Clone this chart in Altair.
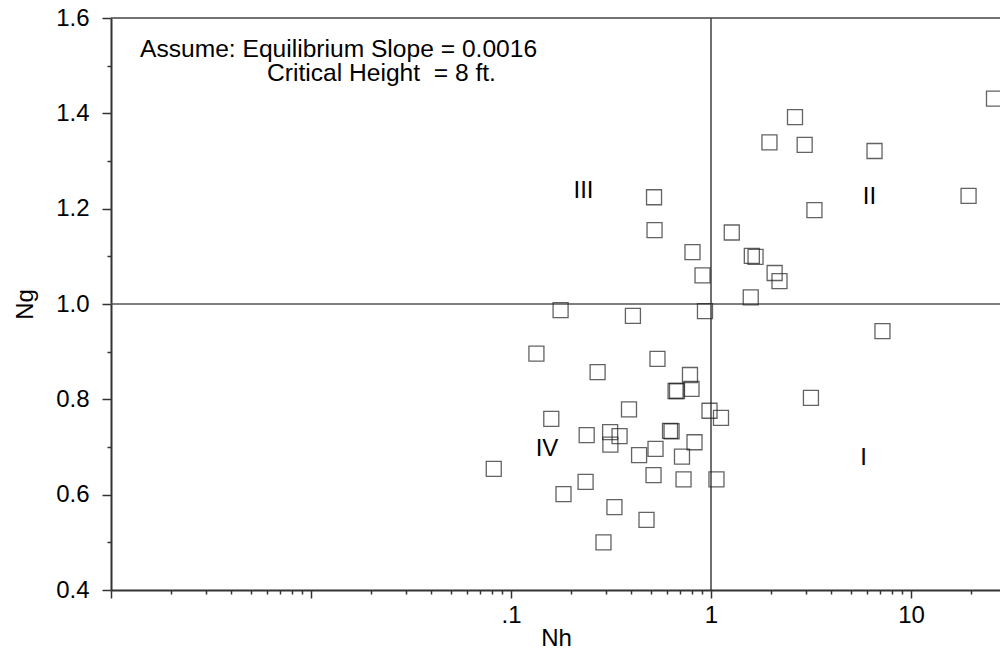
import altair as alt
import pandas as pd

# Data points (Nh, Ng)
nh = [2.63, 1.96, 2.94, 6.57, 26.0, 19.4, 3.29, 1.27, 1.60, 1.67, 2.08, 2.20, 1.58,
      7.20, 3.16,
      0.519, 0.522, 0.808, 0.907,
      0.177, 0.407, 0.933, 0.134, 0.540, 0.271, 0.785, 0.665, 0.676, 0.799,
      0.389, 0.983, 1.122, 0.159, 0.239, 0.313, 0.349, 0.314, 0.624, 0.635,
      0.827, 0.528, 0.437, 0.716, 0.082, 0.516, 0.729, 1.065, 0.236, 0.183,
      0.329, 0.476, 0.290]
ng = [1.392, 1.339, 1.334, 1.321, 1.431, 1.227, 1.197, 1.150, 1.101, 1.099, 1.065, 1.048, 1.014,
      0.943, 0.803,
      1.224, 1.155, 1.109, 1.060,
      0.987, 0.975, 0.985, 0.896, 0.885, 0.857, 0.851, 0.8175, 0.8175, 0.822,
      0.779, 0.776, 0.761, 0.759, 0.725, 0.731, 0.723, 0.705, 0.734, 0.733,
      0.710, 0.696, 0.683, 0.680, 0.654, 0.641, 0.632, 0.632, 0.627, 0.601,
      0.574, 0.547, 0.500]

# Quadrant labels
quad_text = ["III", "II", "IV", "I"]
quad_nh = [0.2304, 6.20, 0.1514, 5.79]
quad_ng = [1.237, 1.224, 0.696, 0.677]

# Annotation lines
note_text = ["Assume: Equilibrium Slope = 0.0016", "Critical Height\u00a0 = 8 ft."]
note_nh = [0.001396, 0.006026]
note_ng = [1.519, 1.468]

# Axis ticks
x_major = [0.001, 0.01, 0.1, 1, 10]
x_ticks = [round(m * 10.0 ** e, 6) for e in range(-3, 2) for m in range(1, 10)]
x_ticks = [t for t in x_ticks if t <= 27.8]
x_labels = {0.1: ".1", 1: "1", 10: "10"}
y_ticks = [round(0.4 + 0.1 * i, 1) for i in range(13)]

X_DOMAIN = [0.001, 27.86]
Y_DOMAIN = [0.4, 1.6]
FONT = "Liberation Sans"
FS = 24

pts = pd.DataFrame({"Nh": nh, "Ng": ng})
quads = pd.DataFrame({"Nh": quad_nh, "Ng": quad_ng, "t": quad_text})
notes = pd.DataFrame({"Nh": note_nh, "Ng": note_ng, "t": note_text})

xscale = alt.Scale(type="log", domain=X_DOMAIN, nice=False)
yscale = alt.Scale(domain=Y_DOMAIN, nice=False, zero=False)

label_expr = " : ".join(
    [f"datum.value == {k} ? '{v}'" for k, v in x_labels.items()]) + " : ''"
major_list = ",".join(str(v) for v in x_major)

xaxis = alt.Axis(
    values=x_ticks, labelExpr=label_expr, grid=False,
    tickSize={"condition": {"test": f"indexof([{major_list}], datum.value) >= 0", "value": 8}, "value": 4},
    tickColor="#333", tickWidth=1.5, domainColor="#333", domainWidth=2,
    labelFont=FONT, labelFontSize=FS, labelColor="black", labelPadding=5,
    labelOverlap=False, labelFlush=False,
    title="Nh", titleFont=FONT, titleFontSize=FS, titleFontWeight="normal",
    titleColor="black", titleX=445, titleY=48, titleBaseline="middle",
)
yaxis = alt.Axis(
    values=y_ticks,
    labelExpr="round(datum.value*10) % 2 == 0 ? format(datum.value, '.1f') : ''",
    grid=False,
    tickSize={"condition": {"test": "round(datum.value*10) % 2 == 0", "value": 9}, "value": 4},
    tickColor="#333", tickWidth=1.5, domainColor="#333", domainWidth=2,
    labelFont=FONT, labelFontSize=FS, labelColor="black", labelPadding=13,
    labelOverlap=False, labelFlush=False,
    title="Ng", titleFont=FONT, titleFontSize=FS, titleFontWeight="normal",
    titleColor="black", titleX=-86, titleY=286, titleBaseline="middle",
)

points = alt.Chart(pts).mark_point(shape="square", filled=False, size=225, stroke="#222",
                                   strokeWidth=1.3, clip=True).encode(
    x=alt.X("Nh:Q", scale=xscale, axis=xaxis),
    y=alt.Y("Ng:Q", scale=yscale, axis=yaxis),
)

vline = alt.Chart(pd.DataFrame({"v": [1.0]})).mark_rule(color="#111", strokeWidth=1.2).encode(
    x=alt.X("v:Q", scale=xscale))
hline = alt.Chart(pd.DataFrame({"v": [1.0]})).mark_rule(color="#555", strokeWidth=1.5).encode(
    y=alt.Y("v:Q", scale=yscale))
topline = alt.Chart(pd.DataFrame({"v": [1.6]})).mark_rule(color="#444", strokeWidth=1.6).encode(
    y=alt.Y("v:Q", scale=yscale))

quad_marks = alt.Chart(quads).mark_text(font=FONT, fontSize=FS, color="black",
                                        align="center", baseline="middle").encode(
    x=alt.X("Nh:Q", scale=xscale), y=alt.Y("Ng:Q", scale=yscale), text="t:N")
note_marks = alt.Chart(notes).mark_text(font=FONT, fontSize=24.6, color="black",
                                        align="left", baseline="alphabetic").encode(
    x=alt.X("Nh:Q", scale=xscale), y=alt.Y("Ng:Q", scale=yscale), text="t:N")

chart = alt.layer(vline, hline, topline, points, quad_marks, note_marks).properties(
    width=889, height=572,
    autosize=alt.AutoSizeParams(type="none"),
    padding={"left": 111, "top": 18, "right": 0, "bottom": 64},
    background="white",
).configure_view(stroke=None)

chart.save("out.html", embed_options={"renderer": "svg", "actions": False})
